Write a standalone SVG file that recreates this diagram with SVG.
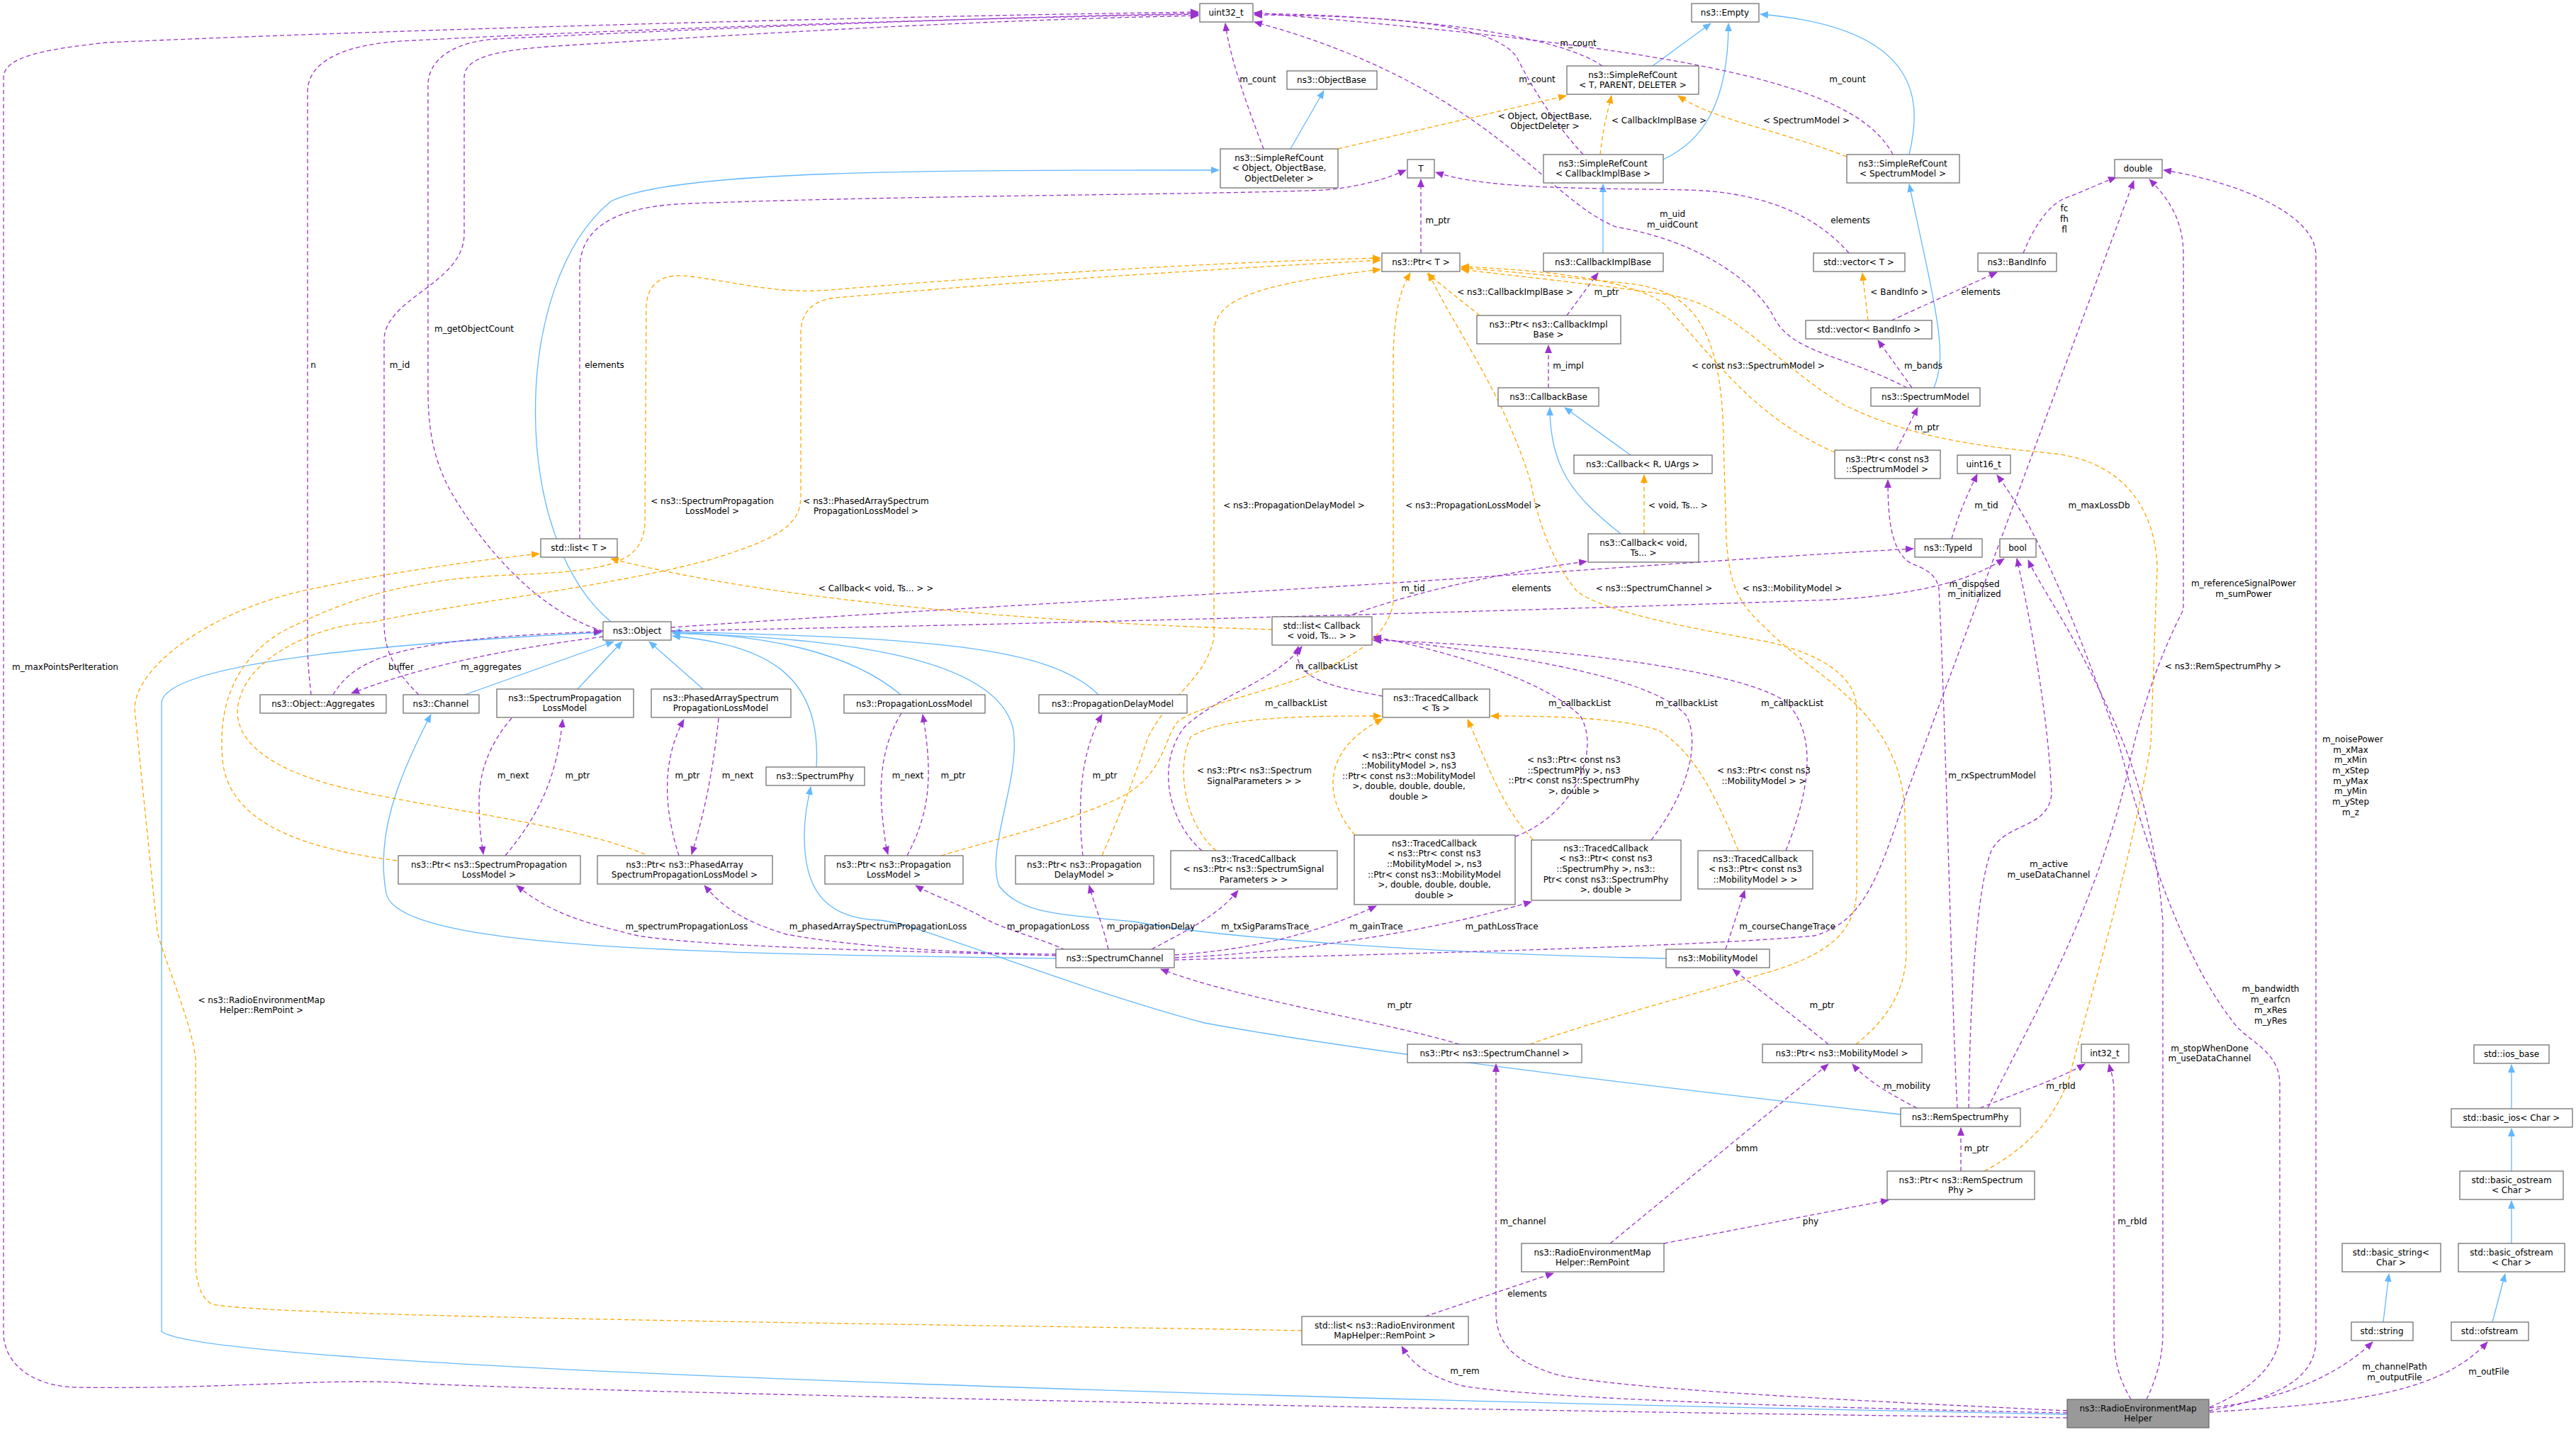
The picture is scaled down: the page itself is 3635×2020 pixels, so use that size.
<svg xmlns="http://www.w3.org/2000/svg" width="3635" height="2020" viewBox="0 0 3635 2020">
<defs>
<marker id="ap" viewBox="0 0 12 10" refX="11" refY="5" markerWidth="12" markerHeight="10" markerUnits="userSpaceOnUse" orient="auto"><path d="M0,0 L12,5 L0,10 z" fill="#9a32cd"/></marker>
<marker id="ao" viewBox="0 0 12 10" refX="11" refY="5" markerWidth="12" markerHeight="10" markerUnits="userSpaceOnUse" orient="auto"><path d="M0,0 L12,5 L0,10 z" fill="#ffa500"/></marker>
<marker id="ab" viewBox="0 0 12 10" refX="11" refY="5" markerWidth="12" markerHeight="10" markerUnits="userSpaceOnUse" orient="auto"><path d="M0,0 L12,5 L0,10 z" fill="#63b8ff"/></marker>
</defs>
<style>
text{font-family:"DejaVu Sans","Liberation Sans",sans-serif;font-size:12px;fill:#000;text-anchor:middle}
.n rect{fill:#fff;stroke:#666;stroke-width:1.2}
.p{fill:none;stroke:#9a32cd;stroke-width:1.3;stroke-dasharray:6,4;marker-end:url(#ap)}
.o{fill:none;stroke:#ffa500;stroke-width:1.3;stroke-dasharray:6,4;marker-end:url(#ao)}
.b{fill:none;stroke:#63b8ff;stroke-width:1.3;marker-end:url(#ab)}
</style>
<rect width="3635" height="2020" fill="#fff"/>
<g id="edges">
<!-- blue -->
<path class="b" d="M1821,210 L1868,128"/>
<path class="b" d="M2332,93 L2414,33"/>
<path class="b" d="M2347,225 C2400,200 2439,150 2439,33"/>
<path class="b" d="M2694,218 C2710,150 2720,40 2484,20"/>
<path class="b" d="M2262,357 L2262,260"/>
<path class="b" d="M2729,547 C2748,500 2735,450 2694,260"/>
<path class="b" d="M862,877 C720,760 720,400 862,284 C950,240 1300,240 1720,240"/>
<path class="b" d="M2301,642 L2208,575"/>
<path class="b" d="M2287,753 C2220,700 2187,660 2187,575"/>
<path class="b" d="M656,980 L866,905"/>
<path class="b" d="M815,972 L878,905"/>
<path class="b" d="M992,972 L916,905"/>
<path class="b" d="M1152,1082 C1160,950 1080,910 949,897"/>
<path class="b" d="M1271,980 C1200,920 1080,895 949,893"/>
<path class="b" d="M1550,980 C1480,910 1300,900 949,891"/>
<path class="b" d="M2351,1352 C2000,1345 1700,1320 1600,1300 C1500,1290 1440,1290 1410,1250 C1390,1200 1440,1100 1430,1030 C1410,930 1200,900 949,893"/>
<path class="b" d="M1490,1352 C1000,1345 560,1340 545,1260 C530,1180 560,1100 608,1008"/>
<path class="b" d="M2682,1572 C2300,1530 1900,1480 1700,1443 C1500,1390 1290,1300 1240,1298 C1160,1295 1135,1250 1135,1180 C1135,1150 1140,1130 1144,1110"/>
<path class="b" d="M2917,1995 C2400,1985 300,1940 228,1878 L228,990 C240,930 600,905 849,892"/>
<path class="b" d="M3544,1564 L3544,1502"/>
<path class="b" d="M3544,1652 L3544,1592"/>
<path class="b" d="M3544,1754 L3544,1694"/>
<path class="b" d="M3517,1865 L3535,1797"/>
<path class="b" d="M3363,1865 L3371,1797"/>
<!-- purple -->
<path class="p" d="M1783,210 C1760,150 1735,80 1729,33"/>
<path class="p" d="M2261,93 C2200,50 2000,22 1770,19"/>
<path class="p" d="M2234,218 C2190,170 2160,120 2140,80 C2110,40 2000,22 1770,21"/>
<path class="p" d="M2671,218 C2620,120 2400,70 1770,18"/>
<path class="p" d="M2691,547 C2600,500 2530,498 2504,449 C2480,400 2400,340 2280,320 C2180,280 2100,120 1770,31"/>
<path class="p" d="M439,980 C437,960 434,940 434,900 L434,130 C434,80 500,60 585,57 C900,40 1400,25 1691,20"/>
<path class="p" d="M591,980 C560,950 542,920 542,880 L542,480 C542,420 655,400 655,330 L655,110 C655,80 700,70 800,64 C1100,45 1400,28 1691,22"/>
<path class="p" d="M851,890 C780,870 700,800 640,700 C610,650 604,600 604,550 L604,120 C604,90 630,60 700,55 C1000,40 1400,24 1691,19"/>
<path class="p" d="M2917,2000 C2000,1990 700,1960 560,1950 C450,1945 300,1960 108,1957 C40,1955 5,1920 5,1880 L5,110 C5,80 60,70 150,60 C600,40 1300,22 1691,17"/>
<path class="p" d="M818,760 L818,380 C818,320 870,290 975,287 C1300,275 1700,275 1870,268 C1930,262 1960,250 1984,240"/>
<path class="p" d="M2609,357 C2560,300 2480,270 2380,268 C2250,265 2100,268 2026,243"/>
<path class="p" d="M2005,357 L2005,253"/>
<path class="p" d="M2211,445 L2255,385"/>
<path class="p" d="M2185,547 L2185,487"/>
<path class="p" d="M2855,357 C2870,320 2890,290 2913,280 C2940,270 2960,260 2986,250"/>
<path class="p" d="M2669,452 L2818,384"/>
<path class="p" d="M2698,547 L2650,480"/>
<path class="p" d="M2676,635 L2706,575"/>
<path class="p" d="M2754,760 C2765,720 2780,690 2790,669"/>
<path class="p" d="M3118,1985 C3180,1960 3217,1920 3217,1880 L3217,1530 C3217,1480 3170,1470 3150,1440 C3080,1350 3030,1200 2990,1050 C2920,850 2870,740 2818,670"/>
<path class="p" d="M947,885 C1300,860 1700,840 2000,820 C2300,800 2500,785 2700,774"/>
<path class="p" d="M947,890 C1500,880 2200,860 2582,846 C2700,840 2780,820 2828,788"/>
<path class="p" d="M1900,870 C1980,840 2100,810 2239,792"/>
<path class="p" d="M851,898 C760,910 620,930 496,978"/>
<path class="p" d="M470,980 C500,930 560,900 849,891"/>
<path class="p" d="M722,1013 C690,1050 676,1090 676,1130 C676,1170 680,1190 682,1205"/>
<path class="p" d="M713,1207 C760,1150 785,1100 794,1015"/>
<path class="p" d="M958,1207 C940,1150 930,1080 965,1015"/>
<path class="p" d="M1014,1013 C1005,1100 990,1160 976,1205"/>
<path class="p" d="M1272,1006 C1245,1050 1240,1100 1245,1150 C1248,1180 1250,1195 1253,1205"/>
<path class="p" d="M1280,1207 C1310,1150 1318,1100 1302,1008"/>
<path class="p" d="M1528,1207 C1522,1150 1520,1070 1555,1008"/>
<path class="p" d="M1490,1348 C1200,1340 1000,1335 900,1320 C820,1300 780,1290 729,1249"/>
<path class="p" d="M1490,1346 C1350,1345 1200,1335 1110,1318 C1050,1300 1020,1280 994,1249"/>
<path class="p" d="M1503,1340 C1460,1320 1410,1310 1380,1290 C1340,1270 1310,1260 1292,1249"/>
<path class="p" d="M1564,1339 C1555,1300 1545,1280 1537,1249"/>
<path class="p" d="M1625,1339 C1680,1310 1720,1290 1747,1256"/>
<path class="p" d="M1658,1347 C1760,1340 1850,1320 1942,1278"/>
<path class="p" d="M1658,1351 C1800,1345 2000,1320 2161,1272"/>
<path class="p" d="M2435,1339 L2462,1256"/>
<path class="p" d="M1658,1354 C2000,1345 2400,1335 2560,1320 C2630,1300 2650,1240 2690,1120 L3011,255"/>
<path class="p" d="M1951,982 C1890,970 1820,960 1832,912"/>
<path class="p" d="M1696,1200 C1650,1160 1630,1080 1671,1026 C1720,980 1800,960 1837,912"/>
<path class="p" d="M2138,1180 C2220,1150 2260,1060 2230,1010 C2180,960 2050,920 1938,898"/>
<path class="p" d="M2330,1185 C2380,1120 2400,1050 2380,1010 C2330,950 2100,920 1938,900"/>
<path class="p" d="M2520,1200 C2560,1100 2560,1030 2520,990 C2450,940 2150,910 1938,903"/>
<path class="p" d="M2059,1473 C1950,1440 1750,1410 1638,1367"/>
<path class="p" d="M2580,1473 C2540,1440 2500,1410 2445,1367"/>
<path class="p" d="M2705,1563 C2660,1540 2630,1520 2614,1501"/>
<path class="p" d="M2794,1563 C2850,1540 2910,1520 2942,1501"/>
<path class="p" d="M2762,1563 C2755,1450 2745,1000 2736,830 C2730,800 2700,800 2690,790 C2668,770 2664,730 2664,677"/>
<path class="p" d="M2778,1563 C2780,1400 2790,1250 2810,1200 C2830,1160 2890,1170 2895,1120 C2890,1000 2860,850 2846,788"/>
<path class="p" d="M2805,1563 C2860,1450 2950,1300 3000,1100 C3020,1000 3050,920 3081,860 L3081,360 C3081,310 3060,280 3033,253"/>
<path class="p" d="M3117,1990 C3200,1975 3268,1950 3268,1890 L3268,360 C3268,300 3150,255 3053,240"/>
<path class="p" d="M3029,1974 C3045,1940 3052,1910 3052,1880 L3052,1300 C3040,1150 3000,1050 2975,1000 C2920,880 2880,830 2862,790"/>
<path class="p" d="M3007,1974 C2990,1945 2983,1920 2983,1880 L2983,1540 C2983,1520 2978,1510 2976,1501"/>
<path class="p" d="M3118,1986 C3220,1975 3300,1940 3348,1893"/>
<path class="p" d="M3118,1992 C3300,1980 3440,1970 3510,1893"/>
<path class="p" d="M2917,1990 C2600,1975 2300,1960 2200,1940 C2130,1920 2111,1890 2111,1850 L2111,1501"/>
<path class="p" d="M2917,1993 C2500,1985 2150,1970 2064,1955 C2010,1940 1990,1920 1978,1899"/>
<path class="p" d="M2011,1857 L2192,1796"/>
<path class="p" d="M2272,1754 L2580,1501"/>
<path class="p" d="M2348,1754 L2665,1693"/>
<path class="p" d="M2767,1652 L2767,1591"/>
<!-- orange -->
<path class="o" d="M1888,210 L2210,135"/>
<path class="o" d="M2258,218 C2262,180 2268,160 2274,135"/>
<path class="o" d="M2606,221 C2500,180 2420,170 2368,135"/>
<path class="o" d="M2088,445 L2014,386"/>
<path class="o" d="M2589,638 C2480,590 2430,520 2350,430 C2300,390 2150,380 2062,376"/>
<path class="o" d="M2636,452 L2628,385"/>
<path class="o" d="M2320,753 L2320,670"/>
<path class="o" d="M1795,888 C1500,880 1100,850 862,788"/>
<path class="o" d="M1837,1877 C1500,1870 400,1860 300,1840 C280,1830 276,1800 276,1778 L276,1493 C270,1440 230,1350 222,1314 L190,1000 C190,940 300,860 434,832 C560,805 680,790 761,781"/>
<path class="o" d="M560,1214 C450,1200 330,1170 315,1080 C305,1000 330,930 400,890 C480,850 560,820 700,812 C850,806 905,800 910,740 L912,430 C915,395 940,385 975,390 C1050,400 1100,415 1171,409 C1400,390 1700,370 1948,364"/>
<path class="o" d="M910,1205 C800,1160 600,1140 480,1110 C360,1080 320,1030 340,980 C360,920 460,880 523,878 C650,850 850,830 1000,790 C1100,760 1130,740 1130,700 L1130,470 C1130,430 1160,420 1192,419 C1400,400 1700,380 1948,367"/>
<path class="o" d="M1555,1207 C1580,1150 1600,1100 1620,1040 C1650,980 1700,960 1713,900 L1713,470 C1713,420 1780,400 1948,380"/>
<path class="o" d="M1328,1207 C1420,1180 1500,1160 1570,1130 C1640,1100 1640,1050 1660,1020 C1700,980 1950,960 1966,850 L1966,500 C1968,440 1975,410 1990,385"/>
<path class="o" d="M2159,1473 C2250,1440 2400,1400 2500,1370 C2600,1340 2620,1300 2620,1250 L2620,1000 C2620,950 2560,920 2493,905 C2350,880 2260,860 2225,834 C2190,790 2171,740 2160,680 C2120,550 2050,460 2016,385"/>
<path class="o" d="M2619,1473 C2660,1440 2690,1400 2690,1340 L2688,1150 C2685,1000 2550,950 2493,887 C2450,850 2440,820 2436,760 L2432,620 C2430,450 2380,410 2300,400 C2200,390 2100,380 2062,378"/>
<path class="o" d="M2800,1652 C2860,1620 2900,1578 2920,1520 C2950,1400 3000,1250 3035,1050 L3044,800 C3040,700 2980,650 2900,640 C2800,630 2700,620 2600,570 C2500,510 2450,430 2350,415 C2200,395 2100,385 2062,380"/>
<path class="o" d="M1716,1200 C1670,1160 1660,1080 1680,1040 C1720,1010 1850,1010 1949,1010"/>
<path class="o" d="M1912,1178 C1870,1130 1860,1060 1951,1014"/>
<path class="o" d="M2163,1184 C2120,1140 2100,1080 2071,1015"/>
<path class="o" d="M2453,1200 C2420,1120 2390,1060 2340,1030 C2280,1010 2160,1010 2104,1010"/>
</g>
<g id="labels">
<text x="1775" y="116">m_count</text>
<text x="2227" y="65">m_count</text>
<text x="2169" y="116">m_count</text>
<text x="2607" y="116">m_count</text>
<text x="2180" y="168">&lt; Object, ObjectBase,</text><text x="2180" y="182">ObjectDeleter &gt;</text>
<text x="2341" y="174">&lt; CallbackImplBase &gt;</text>
<text x="2549" y="174">&lt; SpectrumModel &gt;</text>
<text x="2029" y="315">m_ptr</text>
<text x="2360" y="306">m_uid</text><text x="2360" y="321">m_uidCount</text>
<text x="2611" y="315">elements</text>
<text x="2913" y="298">fc</text><text x="2913" y="313">fh</text><text x="2913" y="328">fl</text>
<text x="2138" y="416">&lt; ns3::CallbackImplBase &gt;</text>
<text x="2267" y="416">m_ptr</text>
<text x="2680" y="416">&lt; BandInfo &gt;</text>
<text x="2795" y="416">elements</text>
<text x="2213" y="520">m_impl</text>
<text x="2481" y="520">&lt; const ns3::SpectrumModel &gt;</text>
<text x="2714" y="520">m_bands</text>
<text x="2719" y="607">m_ptr</text>
<text x="442" y="519">n</text>
<text x="564" y="519">m_id</text>
<text x="669" y="468">m_getObjectCount</text>
<text x="853" y="519">elements</text>
<text x="92" y="945">m_maxPointsPerIteration</text>
<text x="1005" y="711">&lt; ns3::SpectrumPropagation</text><text x="1005" y="725">LossModel &gt;</text>
<text x="1222" y="711">&lt; ns3::PhasedArraySpectrum</text><text x="1222" y="725">PropagationLossModel &gt;</text>
<text x="1236" y="834">&lt; Callback&lt; void, Ts... &gt; &gt;</text>
<text x="566" y="945">buffer</text>
<text x="693" y="945">m_aggregates</text>
<text x="724" y="1098">m_next</text><text x="815" y="1098">m_ptr</text>
<text x="970" y="1098">m_ptr</text><text x="1041" y="1098">m_next</text>
<text x="1281" y="1098">m_next</text><text x="1345" y="1098">m_ptr</text>
<text x="1559" y="1098">m_ptr</text>
<text x="969" y="1311">m_spectrumPropagationLoss</text>
<text x="1239" y="1311">m_phasedArraySpectrumPropagationLoss</text>
<text x="1479" y="1311">m_propagationLoss</text>
<text x="1624" y="1311">m_propagationDelay</text>
<text x="1826" y="717">&lt; ns3::PropagationDelayModel &gt;</text>
<text x="2079" y="717">&lt; ns3::PropagationLossModel &gt;</text>
<text x="2368" y="717">&lt; void, Ts... &gt;</text>
<text x="2803" y="717">m_tid</text>
<text x="2962" y="717">m_maxLossDb</text>
<text x="1994" y="834">m_tid</text>
<text x="2161" y="834">elements</text>
<text x="2334" y="834">&lt; ns3::SpectrumChannel &gt;</text>
<text x="2529" y="834">&lt; ns3::MobilityModel &gt;</text>
<text x="2786" y="828">m_disposed</text><text x="2786" y="842">m_initialized</text>
<text x="3166" y="827">m_referenceSignalPower</text><text x="3166" y="842">m_sumPower</text>
<text x="3137" y="944">&lt; ns3::RemSpectrumPhy &gt;</text>
<text x="1872" y="944">m_callbackList</text>
<text x="1829" y="996">m_callbackList</text>
<text x="2229" y="996">m_callbackList</text>
<text x="2380" y="996">m_callbackList</text>
<text x="2529" y="996">m_callbackList</text>
<text x="1770" y="1091">&lt; ns3::Ptr&lt; ns3::Spectrum</text><text x="1770" y="1106">SignalParameters &gt; &gt;</text>
<text x="1988" y="1070">&lt; ns3::Ptr&lt; const ns3</text><text x="1988" y="1084">::MobilityModel &gt;, ns3</text><text x="1988" y="1099">::Ptr&lt; const ns3::MobilityModel</text><text x="1988" y="1113">&gt;, double, double, double,</text><text x="1988" y="1128">double &gt;</text>
<text x="2221" y="1076">&lt; ns3::Ptr&lt; const ns3</text><text x="2221" y="1091">::SpectrumPhy &gt;, ns3</text><text x="2221" y="1105">::Ptr&lt; const ns3::SpectrumPhy</text><text x="2221" y="1120">&gt;, double &gt;</text>
<text x="2489" y="1091">&lt; ns3::Ptr&lt; const ns3</text><text x="2489" y="1106">::MobilityModel &gt; &gt;</text>
<text x="2811" y="1098">m_rxSpectrumModel</text>
<text x="2891" y="1223">m_active</text><text x="2891" y="1238">m_useDataChannel</text>
<text x="3320" y="1047">m_noisePower</text><text x="3317" y="1062">m_xMax</text><text x="3317" y="1076">m_xMin</text><text x="3317" y="1091">m_xStep</text><text x="3317" y="1106">m_yMax</text><text x="3317" y="1120">m_yMin</text><text x="3317" y="1135">m_yStep</text><text x="3317" y="1150">m_z</text>
<text x="1785" y="1311">m_txSigParamsTrace</text>
<text x="1942" y="1311">m_gainTrace</text>
<text x="2119" y="1311">m_pathLossTrace</text>
<text x="2522" y="1311">m_courseChangeTrace</text>
<text x="369" y="1415">&lt; ns3::RadioEnvironmentMap</text><text x="369" y="1429">Helper::RemPoint &gt;</text>
<text x="3204" y="1399">m_bandwidth</text><text x="3204" y="1414">m_earfcn</text><text x="3204" y="1429">m_xRes</text><text x="3204" y="1444">m_yRes</text>
<text x="1975" y="1422">m_ptr</text>
<text x="2571" y="1422">m_ptr</text>
<text x="3118" y="1483">m_stopWhenDone</text><text x="3118" y="1497">m_useDataChannel</text>
<text x="2691" y="1536">m_mobility</text>
<text x="2908" y="1536">m_rbId</text>
<text x="2465" y="1624">bmm</text>
<text x="2789" y="1624">m_ptr</text>
<text x="2149" y="1727">m_channel</text>
<text x="2555" y="1727">phy</text>
<text x="3009" y="1727">m_rbId</text>
<text x="2155" y="1829">elements</text>
<text x="2067" y="1938">m_rem</text>
<text x="3379" y="1932">m_channelPath</text><text x="3379" y="1947">m_outputFile</text>
<text x="3512" y="1939">m_outFile</text>
</g>
<g id="uint32_t" class="n"><rect x="1693" y="5" width="75" height="26"/><text x="1730" y="22">uint32_t</text></g>
<g id="Empty" class="n"><rect x="2387" y="5" width="95" height="26"/><text x="2434" y="22">ns3::Empty</text></g>
<g id="SRC_TPD" class="n"><rect x="2211" y="93" width="186" height="40"/><text x="2304" y="110">ns3::SimpleRefCount</text><text x="2304" y="124">&lt; T, PARENT, DELETER &gt;</text></g>
<g id="ObjectBase" class="n"><rect x="1816" y="100" width="127" height="26"/><text x="1879" y="117">ns3::ObjectBase</text></g>
<g id="SRC_Obj" class="n"><rect x="1722" y="210" width="166" height="55"/><text x="1805" y="227">ns3::SimpleRefCount</text><text x="1805" y="241">&lt; Object, ObjectBase,</text><text x="1805" y="256">ObjectDeleter &gt;</text></g>
<g id="T" class="n"><rect x="1986" y="225" width="38" height="26"/><text x="2005" y="242">T</text></g>
<g id="SRC_CIB" class="n"><rect x="2178" y="218" width="169" height="40"/><text x="2262" y="235">ns3::SimpleRefCount</text><text x="2262" y="249">&lt; CallbackImplBase &gt;</text></g>
<g id="SRC_SM" class="n"><rect x="2606" y="218" width="159" height="40"/><text x="2685" y="235">ns3::SimpleRefCount</text><text x="2685" y="249">&lt; SpectrumModel &gt;</text></g>
<g id="double" class="n"><rect x="2984" y="225" width="67" height="26"/><text x="3017" y="242">double</text></g>
<g id="PtrT" class="n"><rect x="1950" y="357" width="110" height="26"/><text x="2005" y="374">ns3::Ptr&lt; T &gt;</text></g>
<g id="CIB" class="n"><rect x="2178" y="357" width="169" height="26"/><text x="2262" y="374">ns3::CallbackImplBase</text></g>
<g id="vecT" class="n"><rect x="2559" y="357" width="129" height="26"/><text x="2623" y="374">std::vector&lt; T &gt;</text></g>
<g id="BandInfo" class="n"><rect x="2791" y="357" width="111" height="26"/><text x="2846" y="374">ns3::BandInfo</text></g>
<g id="PtrCIB" class="n"><rect x="2084" y="445" width="203" height="40"/><text x="2185" y="462">ns3::Ptr&lt; ns3::CallbackImpl</text><text x="2185" y="476">Base &gt;</text></g>
<g id="vecBI" class="n"><rect x="2548" y="452" width="178" height="26"/><text x="2637" y="469">std::vector&lt; BandInfo &gt;</text></g>
<g id="CallbackBase" class="n"><rect x="2114" y="547" width="142" height="26"/><text x="2185" y="564">ns3::CallbackBase</text></g>
<g id="SpectrumModel" class="n"><rect x="2640" y="547" width="154" height="26"/><text x="2717" y="564">ns3::SpectrumModel</text></g>
<g id="CallbackRU" class="n"><rect x="2221" y="642" width="195" height="26"/><text x="2318" y="659">ns3::Callback&lt; R, UArgs &gt;</text></g>
<g id="PtrCSM" class="n"><rect x="2589" y="635" width="149" height="40"/><text x="2663" y="652">ns3::Ptr&lt; const ns3</text><text x="2663" y="666">::SpectrumModel &gt;</text></g>
<g id="uint16_t" class="n"><rect x="2762" y="642" width="75" height="26"/><text x="2799" y="659">uint16_t</text></g>
<g id="CallbackVoid" class="n"><rect x="2241" y="753" width="156" height="40"/><text x="2319" y="770">ns3::Callback&lt; void,</text><text x="2319" y="784">Ts... &gt;</text></g>
<g id="TypeId" class="n"><rect x="2702" y="760" width="95" height="26"/><text x="2749" y="777">ns3::TypeId</text></g>
<g id="bool" class="n"><rect x="2822" y="760" width="51" height="26"/><text x="2847" y="777">bool</text></g>
<g id="listT" class="n"><rect x="763" y="760" width="108" height="26"/><text x="817" y="777">std::list&lt; T &gt;</text></g>
<g id="listCB" class="n"><rect x="1795" y="870" width="141" height="40"/><text x="1865" y="887">std::list&lt; Callback</text><text x="1865" y="901">&lt; void, Ts... &gt; &gt;</text></g>
<g id="Object" class="n"><rect x="851" y="877" width="96" height="26"/><text x="899" y="894">ns3::Object</text></g>
<g id="TCTs" class="n"><rect x="1951" y="972" width="151" height="40"/><text x="2026" y="989">ns3::TracedCallback</text><text x="2026" y="1003">&lt; Ts &gt;</text></g>
<g id="Aggregates" class="n"><rect x="367" y="980" width="178" height="26"/><text x="456" y="997">ns3::Object::Aggregates</text></g>
<g id="Channel" class="n"><rect x="569" y="980" width="107" height="26"/><text x="622" y="997">ns3::Channel</text></g>
<g id="SPLM" class="n"><rect x="701" y="972" width="193" height="40"/><text x="797" y="989">ns3::SpectrumPropagation</text><text x="797" y="1003">LossModel</text></g>
<g id="PASPLM" class="n"><rect x="919" y="972" width="197" height="40"/><text x="1017" y="989">ns3::PhasedArraySpectrum</text><text x="1017" y="1003">PropagationLossModel</text></g>
<g id="PLM" class="n"><rect x="1191" y="980" width="199" height="26"/><text x="1290" y="997">ns3::PropagationLossModel</text></g>
<g id="PDM" class="n"><rect x="1466" y="980" width="209" height="26"/><text x="1570" y="997">ns3::PropagationDelayModel</text></g>
<g id="SpectrumPhy" class="n"><rect x="1081" y="1082" width="139" height="26"/><text x="1150" y="1099">ns3::SpectrumPhy</text></g>
<g id="TCSig" class="n"><rect x="1652" y="1200" width="235" height="54"/><text x="1769" y="1216">ns3::TracedCallback</text><text x="1769" y="1230">&lt; ns3::Ptr&lt; ns3::SpectrumSignal</text><text x="1769" y="1245">Parameters &gt; &gt;</text></g>
<g id="TCMob4" class="n"><rect x="1911" y="1178" width="227" height="98"/><text x="2024" y="1194">ns3::TracedCallback</text><text x="2024" y="1208">&lt; ns3::Ptr&lt; const ns3</text><text x="2024" y="1223">::MobilityModel &gt;, ns3</text><text x="2024" y="1238">::Ptr&lt; const ns3::MobilityModel</text><text x="2024" y="1252">&gt;, double, double, double,</text><text x="2024" y="1267">double &gt;</text></g>
<g id="TCPhy" class="n"><rect x="2161" y="1185" width="211" height="85"/><text x="2266" y="1201">ns3::TracedCallback</text><text x="2266" y="1215">&lt; ns3::Ptr&lt; const ns3</text><text x="2266" y="1230">::SpectrumPhy &gt;, ns3::</text><text x="2266" y="1245">Ptr&lt; const ns3::SpectrumPhy</text><text x="2266" y="1259">&gt;, double &gt;</text></g>
<g id="TCMob" class="n"><rect x="2396" y="1200" width="162" height="54"/><text x="2477" y="1216">ns3::TracedCallback</text><text x="2477" y="1230">&lt; ns3::Ptr&lt; const ns3</text><text x="2477" y="1245">::MobilityModel &gt; &gt;</text></g>
<g id="PtrSPLM" class="n"><rect x="562" y="1207" width="257" height="40"/><text x="690" y="1224">ns3::Ptr&lt; ns3::SpectrumPropagation</text><text x="690" y="1238">LossModel &gt;</text></g>
<g id="PtrPASPLM" class="n"><rect x="843" y="1207" width="247" height="40"/><text x="966" y="1224">ns3::Ptr&lt; ns3::PhasedArray</text><text x="966" y="1238">SpectrumPropagationLossModel &gt;</text></g>
<g id="PtrPLM" class="n"><rect x="1164" y="1207" width="195" height="40"/><text x="1261" y="1224">ns3::Ptr&lt; ns3::Propagation</text><text x="1261" y="1238">LossModel &gt;</text></g>
<g id="PtrPDM" class="n"><rect x="1433" y="1207" width="195" height="40"/><text x="1530" y="1224">ns3::Ptr&lt; ns3::Propagation</text><text x="1530" y="1238">DelayModel &gt;</text></g>
<g id="SpectrumChannel" class="n"><rect x="1490" y="1339" width="167" height="26"/><text x="1573" y="1356">ns3::SpectrumChannel</text></g>
<g id="MobilityModel" class="n"><rect x="2351" y="1339" width="146" height="26"/><text x="2424" y="1356">ns3::MobilityModel</text></g>
<g id="PtrSC" class="n"><rect x="1986" y="1473" width="246" height="26"/><text x="2109" y="1490">ns3::Ptr&lt; ns3::SpectrumChannel &gt;</text></g>
<g id="PtrMM" class="n"><rect x="2487" y="1473" width="225" height="26"/><text x="2599" y="1490">ns3::Ptr&lt; ns3::MobilityModel &gt;</text></g>
<g id="int32_t" class="n"><rect x="2937" y="1473" width="67" height="26"/><text x="2970" y="1490">int32_t</text></g>
<g id="ios_base" class="n"><rect x="3491" y="1474" width="106" height="26"/><text x="3544" y="1491">std::ios_base</text></g>
<g id="RemSpectrumPhy" class="n"><rect x="2682" y="1563" width="169" height="26"/><text x="2766" y="1580">ns3::RemSpectrumPhy</text></g>
<g id="basic_ios" class="n"><rect x="3459" y="1564" width="171" height="26"/><text x="3544" y="1581">std::basic_ios&lt; Char &gt;</text></g>
<g id="PtrRSP" class="n"><rect x="2663" y="1652" width="208" height="40"/><text x="2767" y="1669">ns3::Ptr&lt; ns3::RemSpectrum</text><text x="2767" y="1683">Phy &gt;</text></g>
<g id="basic_ostream" class="n"><rect x="3471" y="1652" width="146" height="40"/><text x="3544" y="1669">std::basic_ostream</text><text x="3544" y="1683">&lt; Char &gt;</text></g>
<g id="RemPoint" class="n"><rect x="2147" y="1754" width="201" height="40"/><text x="2247" y="1771">ns3::RadioEnvironmentMap</text><text x="2247" y="1785">Helper::RemPoint</text></g>
<g id="basic_string" class="n"><rect x="3305" y="1754" width="139" height="40"/><text x="3374" y="1771">std::basic_string&lt;</text><text x="3374" y="1785">Char &gt;</text></g>
<g id="basic_ofstream" class="n"><rect x="3469" y="1754" width="150" height="40"/><text x="3544" y="1771">std::basic_ofstream</text><text x="3544" y="1785">&lt; Char &gt;</text></g>
<g id="listRP" class="n"><rect x="1837" y="1857" width="235" height="40"/><text x="1954" y="1874">std::list&lt; ns3::RadioEnvironment</text><text x="1954" y="1888">MapHelper::RemPoint &gt;</text></g>
<g id="string" class="n"><rect x="3318" y="1865" width="87" height="26"/><text x="3361" y="1882">std::string</text></g>
<g id="ofstream" class="n"><rect x="3459" y="1865" width="109" height="26"/><text x="3513" y="1882">std::ofstream</text></g>
<g id="REMHelper" class="n"><rect x="2917" y="1974" width="200" height="40" style="fill:#999"/><text x="3017" y="1991">ns3::RadioEnvironmentMap</text><text x="3017" y="2005">Helper</text></g>
</svg>
